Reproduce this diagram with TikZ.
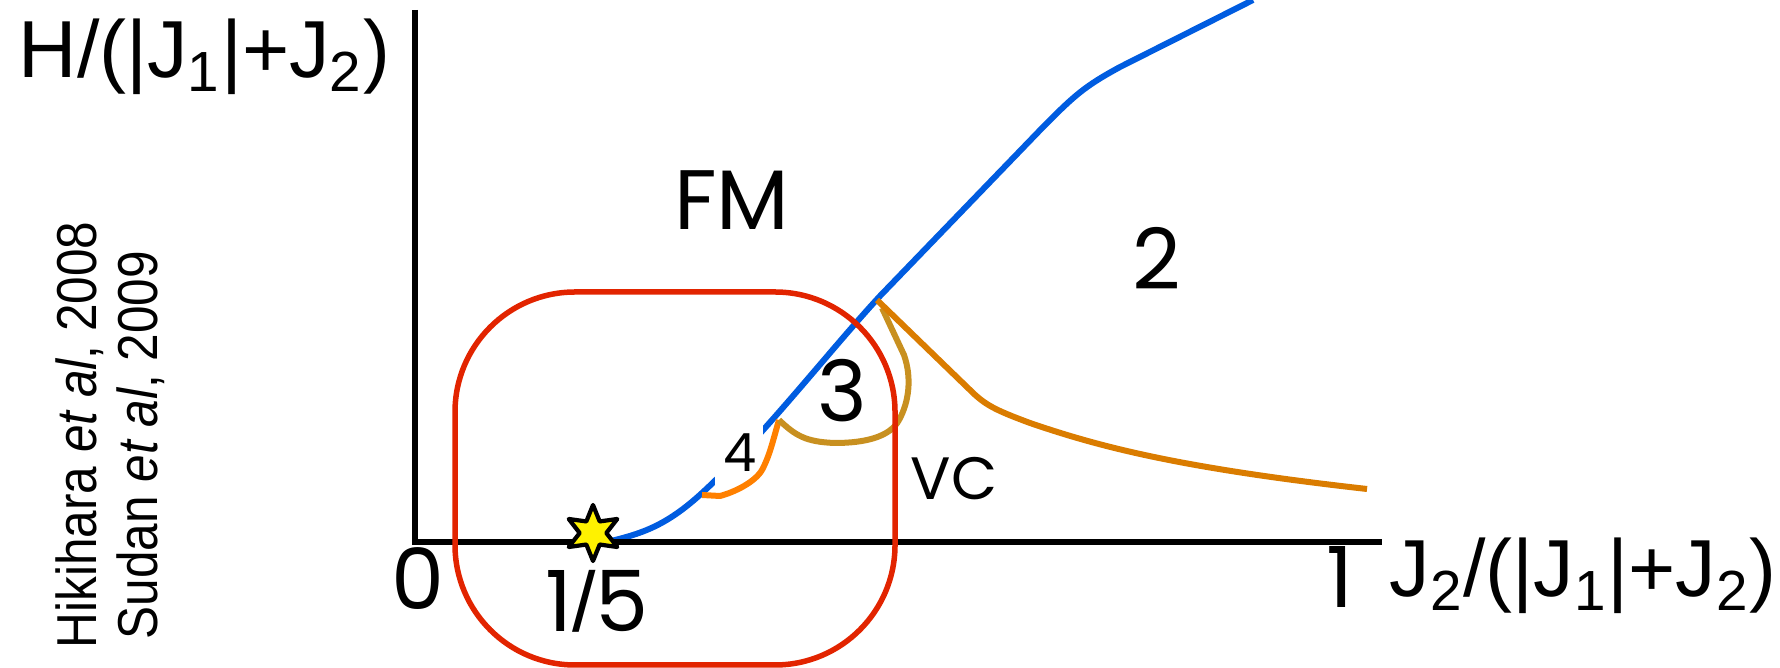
\documentclass[tikz,border=0pt]{standalone}
\usepackage{fontspec}
\setmainfont{Liberation Sans}
\newfontfamily\geo{Poppins}
\newfontfamily\citefont{Liberation Sans}[FakeStretch=0.88]
\usetikzlibrary{positioning,shapes.geometric}

\definecolor{fmblue}{RGB}{0,92,224}
\definecolor{fourorange}{RGB}{255,128,0}
\definecolor{threegold}{RGB}{200,144,32}
\definecolor{vcorange}{RGB}{218,124,0}
\definecolor{ringred}{RGB}{226,36,0}

\begin{document}
\begin{tikzpicture}[x=0.01cm, y=-0.01cm, line join=round,
    region/.style={font=\geo\fontsize{24}{28}\selectfont, inner sep=0pt, anchor=base},
    axislabel/.style={font=\fontsize{23}{28}\selectfont, inner sep=0pt, anchor=base west},
    citelabel/.style={font=\citefont\fontsize{16}{19}\selectfont, inner sep=0pt, rotate=90, anchor=base},
    boundary/.style={line width=0.06cm, line cap=butt}]
  \useasboundingbox (0,0) rectangle (1780,668);

  % phase boundaries
  \coordinate (tri) at (779,420);
  \coordinate (cusp) at (877,300);
  \draw[boundary, fmblue] (607,542) .. controls (640,534) and (665,527) .. (702,493)
    .. controls (760,440) and (830,350) .. (880,296) -- (1045,125)
    .. controls (1075,95) and (1085,86) .. (1120,67) -- (1253,0);
  \node[fill=white, inner sep=0pt, minimum width=0.48cm, minimum height=0.62cm] (four) at (739,454) {};
  \node[region, font=\geo\fontsize{15}{18}\selectfont] at (740,472) {4};
  \draw[boundary, fourorange] (702,495) -- (720,496) .. controls (735,492) and (755,482) .. (762,470)
    .. controls (770,455) and (773,440) .. (tri);
  \draw[boundary, threegold] (tri) .. controls (795,435) and (805,442) .. (835,443)
    .. controls (865,443) and (890,437) .. (899,420)
    .. controls (909,402) and (912,378) .. (904,355) -- (882,308);
  \draw[boundary, vcorange] (cusp) -- (970,390) .. controls (985,405) and (995,410) .. (1030,423)
    .. controls (1100,447) and (1180,468) .. (1367,489);

  % axes
  \draw[line width=0.06cm, line join=miter] (415,10) -- (415,542) -- (1382,542);
  \node[axislabel] (ylab) at (18,78) {H/(|J\textsubscript{1}|+J\textsubscript{2})};
  \node[axislabel] (xlab) at (1389,597) {J\textsubscript{2}/(|J\textsubscript{1}|+J\textsubscript{2})};
  \node[region] (zero) at (418,610) {0};
  \node[region] (one) at (1340,608) {1};
  \node[region] (fifth) at (597,632) {1{\rmfamily\fontsize{24}{28}\selectfont/}5};

  % phases
  \node[region] (fm) at (732,230) {FM};
  \node[region] (two) at (1157,290) {2};
  \node[region] (three) at (842,422) {3};
  \node[region, font=\geo\fontsize{17}{20}\selectfont] (vc) at (954,500) {VC};

  % highlighted region
  \draw[ringred, line width=0.055cm, rounded corners=1.2cm] (455,292) rectangle (895,665);
  \node[star, star points=6, star point ratio=2.1, minimum size=0.56cm, inner sep=0pt,
        fill=yellow, draw=black, line width=1.2pt] (dot) at (593,533) {};

  % references
  \node[citelabel] (hik) at (96,435) {Hikihara \textit{et al}, 2008};
  \node[citelabel] (sud) at (157,445) {Sudan \textit{et al}, 2009};
\end{tikzpicture}
\end{document}
